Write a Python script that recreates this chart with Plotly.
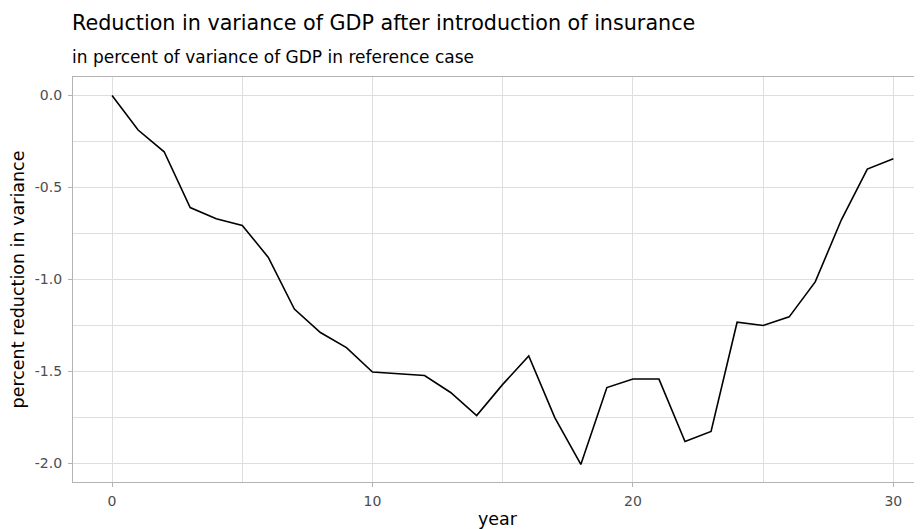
import plotly.graph_objects as go

years = list(range(0, 31))
reduction = [0.0, -0.188, -0.306, -0.609, -0.670, -0.706, -0.880, -1.161, -1.288, -1.370,
             -1.503, -1.514, -1.522, -1.614, -1.739, -1.570, -1.416, -1.750, -2.005, -1.587,
             -1.541, -1.541, -1.880, -1.826, -1.232, -1.250, -1.203, -1.013, -0.677, -0.400,
             -0.344]
x_ticks = [0, 10, 20, 30]
y_ticks = [0.0, -0.5, -1.0, -1.5, -2.0]
y_tick_labels = ["0.0", "-0.5", "-1.0", "-1.5", "-2.0"]

title_text = "Reduction in variance of GDP after introduction of insurance"
subtitle_text = "in percent of variance of GDP in reference case"

FONT = "DejaVu Sans"
GRID = "#DEDEDE"

fig = go.Figure()
fig.add_trace(go.Scatter(x=years, y=reduction, mode="lines",
                         line=dict(color="black", width=1.6), showlegend=False))

fig.update_layout(
    width=914, height=521,
    margin=dict(l=65, r=0, t=69, b=47),
    paper_bgcolor="white", plot_bgcolor="white",
    font=dict(family=FONT, color="#4D4D4D"),
    annotations=[
        dict(text=title_text, xref="paper", yref="paper", x=0, y=1, xanchor="left",
             yanchor="bottom", yshift=40, xshift=-3, showarrow=False,
             font=dict(family=FONT, size=20.7, color="black")),
        dict(text=subtitle_text, xref="paper", yref="paper", x=0, y=1, xanchor="left",
             yanchor="bottom", yshift=8, xshift=-3, showarrow=False,
             font=dict(family=FONT, size=17, color="black")),
    ],
)
fig.update_xaxes(
    range=[-1.5, 31.1], tickvals=x_ticks, ticktext=[str(v) for v in x_ticks],
    showgrid=True, gridcolor=GRID, gridwidth=1.3,
    minor=dict(dtick=5, tick0=0, showgrid=True, gridcolor=GRID, gridwidth=1.2),
    showline=True, linecolor="#B3B3B3", linewidth=1.3, mirror=True,
    ticks="outside", ticklen=4, tickcolor="#B3B3B3", tickwidth=1,
    ticklabelstandoff=2,
    tickfont=dict(family=FONT, size=14, color="#4D4D4D"),
    title=dict(text="year", font=dict(family=FONT, size=17.5, color="black"), standoff=6),
    zeroline=False,
)
fig.update_yaxes(
    range=[-2.1003, 0.1003], tickvals=y_ticks, ticktext=y_tick_labels,
    showgrid=True, gridcolor=GRID, gridwidth=1.3,
    minor=dict(dtick=0.25, tick0=0, showgrid=True, gridcolor=GRID, gridwidth=1.2),
    showline=True, linecolor="#B3B3B3", linewidth=1.3, mirror=False,
    ticks="outside", ticklen=4, tickcolor="#B3B3B3", tickwidth=1,
    ticklabelstandoff=3,
    tickfont=dict(family=FONT, size=14, color="#4D4D4D"),
    title=dict(text="percent reduction in variance", font=dict(family=FONT, size=17.5, color="black"), standoff=6),
    zeroline=False,
)

fig.write_html("out.html")
